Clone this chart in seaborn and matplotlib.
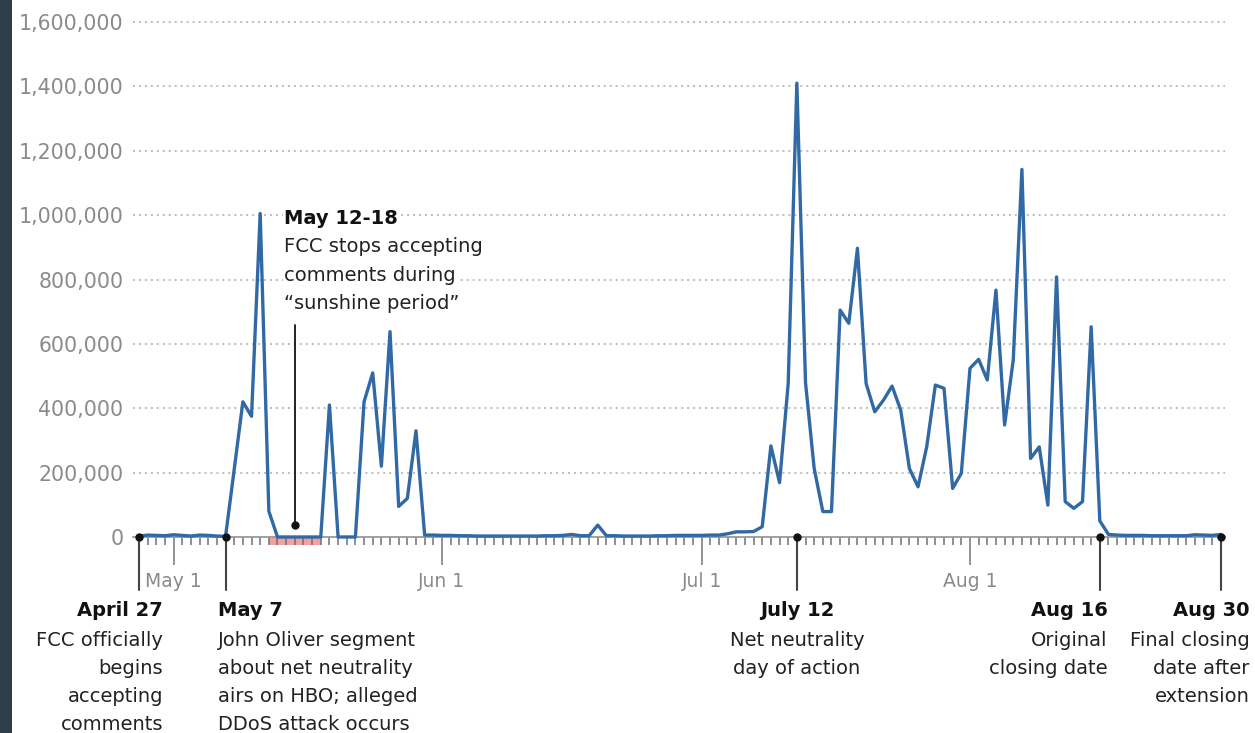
import numpy as np
import pandas as pd
import matplotlib
matplotlib.use("Agg")
import matplotlib.pyplot as plt
import seaborn as sns
from matplotlib.transforms import blended_transform_factory
from matplotlib.patches import Rectangle

# ---------------- data ----------------
start_date = "2014-04-27"
end_date = "2014-08-30"
comments = [
    3000, 6000, 5000, 4000, 7000, 5000, 3000, 6000, 5000, 3000,
    2000, 210000, 420000, 375000, 1005000, 80000,
    0, 0, 0, 0, 0, 0,
    410000,
    0, 0, 0,
    420000, 510000, 220000, 638000, 95000, 120000, 330000,
    6000, 6000, 5000, 5000, 4000, 4000, 3000, 3000, 3000, 3000,
    3000, 3000, 3000, 3000, 4000, 4000, 5000, 8000, 4000, 4000,
    37000,
    4000, 4000, 3000, 3000, 3000, 3000, 4000, 4000, 5000, 5000,
    5000, 5000, 6000, 6000,
    10000, 16000, 16000, 17000, 32000,
    283000, 169000, 477000, 1410000, 480000, 213000, 79000, 79000,
    705000, 664000, 897000, 477000, 389000, 425000, 469000, 394000,
    213000, 156000, 280000, 472000, 462000, 151000, 198000,
    524000, 552000, 488000, 767000, 348000, 550000, 1142000, 244000,
    280000, 99000, 808000, 110000, 89000, 110000, 653000, 50000,
    8000, 6000, 5000, 5000, 5000, 4000, 4000, 4000, 4000, 4000,
    7000, 6000, 5000, 8000,
]
month_tick_dates = ["2014-05-01", "2014-06-01", "2014-07-01", "2014-08-01"]
month_tick_labels = ["May 1", "Jun 1", "Jul 1", "Aug 1"]
y_ticks = [0, 200000, 400000, 600000, 800000, 1000000, 1200000, 1400000, 1600000]

event_dates = ["2014-04-27", "2014-05-07", "2014-07-12", "2014-08-16", "2014-08-30"]
event_titles = ["April 27", "May 7", "July 12", "Aug 16", "Aug 30"]
event_texts = [
    ["FCC officially", "begins", "accepting", "comments"],
    ["John Oliver segment", "about net neutrality", "airs on HBO; alleged", "DDoS attack occurs"],
    ["Net neutrality", "day of action"],
    ["Original", "closing date"],
    ["Final closing", "date after", "extension"],
]
sunshine_start = "2014-05-12"
sunshine_end = "2014-05-18"
sunshine_title = "May 12-18"
sunshine_text = ["FCC stops accepting", "comments during", "\u201csunshine period\u201d"]

# ---------------- frame ----------------
start = pd.Timestamp(start_date)
dates = pd.date_range(start_date, end_date, freq="D")
df = pd.DataFrame({"date": dates, "comments": comments})
df["day"] = (df["date"] - start).dt.days


def dnum(s):
    return (pd.Timestamp(s) - start).days


sns.set_theme(style="white")
plt.rcParams["font.family"] = ["DejaVu Sans"]

W, H = 1255, 733
fig = plt.figure(figsize=(W / 100, H / 100), dpi=100)
fig.patch.set_facecolor("white")

px_per_day = (1221 - 139) / 125.0
x_left = -(139 - 133) / px_per_day
x_right = 125 + (1225 - 1221) / px_per_day
val_per_px = 1600000 / (537 - 22)
y_top = 1600000 + (22 - 20) * val_per_px

ax = fig.add_axes([133 / W, 1 - 537 / H, (1225 - 133) / W, (537 - 20) / H])
ax.set_xlim(x_left, x_right)
ax.set_ylim(0, y_top)

sns.lineplot(data=df, x="day", y="comments", ax=ax, color="#3169a5",
             linewidth=2.4, clip_on=False, zorder=4)

# grid
ax.set_yticks(y_ticks)
ax.set_yticklabels([f"{v:,}" for v in y_ticks])
for v in y_ticks[1:]:
    ax.axhline(v, color="#ababab", linewidth=1.1, linestyle=(0, (1.3, 2.6)), zorder=1)

for s in ["top", "right", "left"]:
    ax.spines[s].set_visible(False)
ax.spines["bottom"].set_color("#9a9a9a")
ax.spines["bottom"].set_linewidth(1.3)
ax.spines["bottom"].set_zorder(3)

ax.tick_params(axis="y", left=False, length=0, pad=7, labelsize=14.8, labelcolor="#8a8a8a")
ax.set_xticks([dnum(d) for d in month_tick_dates])
ax.set_xticklabels(month_tick_labels)
ax.set_xticks(df["day"].tolist(), minor=True)
ax.tick_params(axis="x", which="both", bottom=True, direction="out")
ax.tick_params(axis="x", which="major", length=20, width=1.3, color="#8a8a8a",
               labelsize=13.5, labelcolor="#8a8a8a", pad=5)
ax.tick_params(axis="x", which="minor", length=6, width=1.1, color="#707070")
ax.set_xlabel("")
ax.set_ylabel("")

# sunshine period bar
s0, s1 = dnum(sunshine_start), dnum(sunshine_end)
ax.add_patch(Rectangle((s0, -8 * val_per_px), s1 - s0, 8 * val_per_px,
                       facecolor="#f2a0a0", edgecolor="none", clip_on=False, zorder=0.5))
smid = (s0 + s1) / 2
ax.plot([smid, smid], [37000, (537 - 325) * val_per_px], color="#222222", lw=1.4,
        clip_on=False, zorder=5)
ax.plot([smid], [37000], "o", ms=5, color="#111111", clip_on=False, zorder=6)

trans = blended_transform_factory(ax.transData, fig.transFigure)
sx = 16.8
ax.text(sx, 1 - 218 / H, sunshine_title, transform=trans, ha="left", va="center",
        fontsize=14, fontweight="bold", color="#111111",
        bbox=dict(facecolor="white", edgecolor="none", pad=1))
for k, line in enumerate(sunshine_text):
    ax.text(sx, 1 - (247 + 28.3 * k) / H, line, transform=trans, ha="left",
            va="center", fontsize=14, color="#222222",
            bbox=dict(facecolor="white", edgecolor="none", pad=1))

# events
event_x = [2.77, 9.08, 76.0, 111.9, 128.3]
event_ha = ["right", "left", "center", "right", "right"]
for d, title, lines, tx, ha in zip(event_dates, event_titles, event_texts, event_x, event_ha):
    dn = dnum(d)
    ax.plot([dn, dn], [0, -(590 - 537) * val_per_px], color="#444444", lw=1.5,
            clip_on=False, zorder=5)
    ax.plot([dn], [0], "o", ms=5, color="#111111", clip_on=False, zorder=6)
    ax.text(tx, 1 - 611 / H, title, transform=trans, ha=ha, va="center",
            fontsize=14, fontweight="bold", color="#111111")
    for k, line in enumerate(lines):
        ax.text(tx, 1 - (640 + 28.3 * k) / H, line, transform=trans, ha=ha,
                va="center", fontsize=14, color="#222222")

# left dark band
fig.patches.append(Rectangle((0, 0), 12 / W, 1, transform=fig.transFigure,
                             facecolor="#2e3f4b", edgecolor="none", zorder=0))

fig.savefig("out.png", dpi=100, facecolor="white")
